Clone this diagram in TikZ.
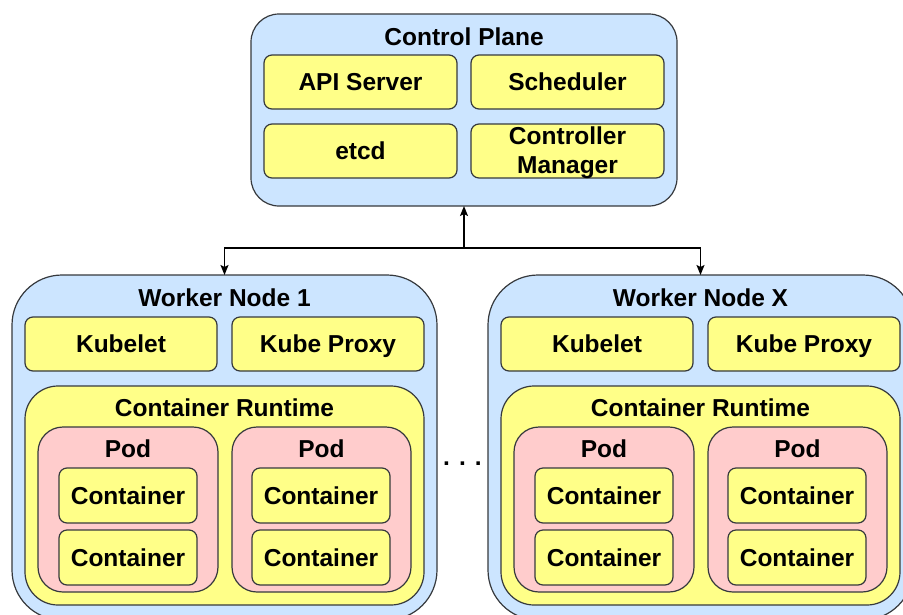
\documentclass[tikz,border=0pt]{standalone}
\usepackage{fontspec}
\setmainfont{Liberation Sans}
\usetikzlibrary{arrows.meta}
\definecolor{bluefill}{HTML}{CCE5FF}
\definecolor{yelfill}{HTML}{FFFF88}
\definecolor{pinkfill}{HTML}{FFCCCC}
\definecolor{edgecol}{HTML}{36393D}
\begin{document}
\begin{tikzpicture}[x=1pt,y=-1pt,
  bx/.style={draw=edgecol, line width=1.2pt, inner sep=0pt, outer sep=0pt,
    font=\bfseries\fontsize{24.5}{29}\selectfont, text height=17.4pt, text depth=0pt},
  bluebox/.style={bx, fill=bluefill},
  yelbox/.style={bx, fill=yelfill},
  pinkbox/.style={bx, fill=pinkfill},
  small/.style={minimum width=193pt, minimum height=54pt, rounded corners=8pt},
  cont/.style={yelbox, minimum width=138pt, minimum height=55pt, rounded corners=8pt},
  pod/.style={pinkbox, minimum width=180pt, minimum height=165pt, rounded corners=25pt},
  rt/.style={yelbox, minimum width=399pt, minimum height=219pt, rounded corners=33pt},
  wk/.style={bluebox, minimum width=425pt, minimum height=345pt, rounded corners=50pt},
  lbl/.style={anchor=base, inner sep=0pt, font=\bfseries\fontsize{24.5}{29}\selectfont},
  arr/.style={draw=black, line width=1.4pt, -{Stealth[length=10pt,width=8pt,inset=2pt]}}]
\useasboundingbox (0,0) rectangle (903,614);
\clip (0,0) rectangle (903,614);
% Control plane
\node[bluebox, minimum width=426pt, minimum height=192pt, rounded corners=28pt] (CP) at (464,110) {};
\node[lbl] (CPt) at (464,45) {Control Plane};
\node[yelbox, small] (API) at (360.5,82) {API Server};
\node[yelbox, small] (SCH) at (567.5,82) {Scheduler};
\node[yelbox, small] (ETCD) at (360.5,151) {etcd};
\node[yelbox, small] (CM) at (567.5,151) {};
\node[lbl] (CMt) at (567.5,144.5) {Controller};
\node[lbl] (CMt2) at (567.5,173.5) {Manager};
% Worker nodes
\foreach \d/\n/\t in {0/1/Worker Node 1, 476/X/Worker Node X}{
  \node[wk] (W\n) at (224.5+\d,447.5) {};
  \node[lbl] (W\n t) at (224.5+\d,306) {\t};
  \node[yelbox, minimum width=192pt, minimum height=54pt, rounded corners=8pt] (KL\n) at (121+\d,344) {Kubelet};
  \node[yelbox, minimum width=192pt, minimum height=54pt, rounded corners=8pt] (KP\n) at (328+\d,344) {Kube Proxy};
  \node[rt] (CR\n) at (224.5+\d,495.5) {};
  \node[lbl] (CR\n t) at (224.5+\d,416) {Container Runtime};
  \node[pod] (PA\n) at (128+\d,509.5) {};
  \node[lbl] (PA\n t) at (128+\d,457) {Pod};
  \node[pod, minimum width=179pt] (PB\n) at (321.5+\d,509.5) {};
  \node[lbl] (PB\n t) at (321.5+\d,457) {Pod};
  \node[cont] (CA\n a) at (128+\d,495.5) {Container};
  \node[cont] (CA\n b) at (128+\d,557.5) {Container};
  \node[cont] (CB\n a) at (321+\d,495.5) {Container};
  \node[cont] (CB\n b) at (321+\d,557.5) {Container};
}
\node[lbl] (dots) at (462.5,465) {. . .};
% connectors
\coordinate (J) at (464,248);
\draw[arr] (J) -- (CP.south);
\draw[arr] (J) -| (W1.north);
\draw[arr] (J) -| (WX.north);
\end{tikzpicture}
\end{document}
